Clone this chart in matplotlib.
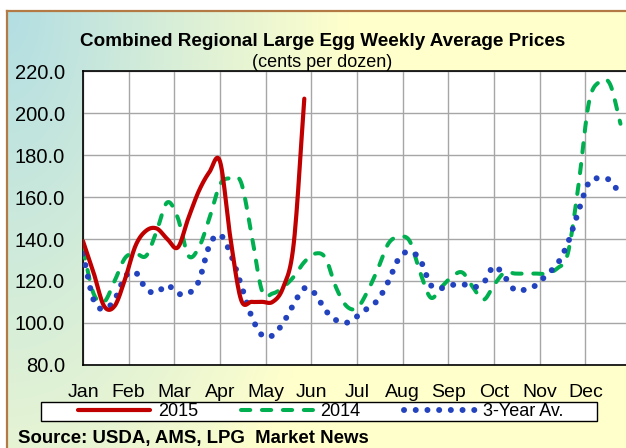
import numpy as np
import matplotlib
matplotlib.use("Agg")
import matplotlib.pyplot as plt
from matplotlib.lines import Line2D
from matplotlib.patches import Rectangle

plt.rcParams['font.family'] = ['Liberation Sans', 'DejaVu Sans']

#meses do eixo x (cada um começa numa linha de grade)
meses = ["Jan", "Feb", "Mar", "Apr", "May", "Jun",
         "Jul", "Aug", "Sep", "Oct", "Nov", "Dec"]
y_ticks = [80, 100, 120, 140, 160, 180, 200, 220]

#valores semanais (centavos por duzia)
preco_2015 = [139, 124, 108, 108, 121, 137, 144, 145, 140, 136, 150,
              163, 172, 177, 140, 111, 110, 110, 110, 117, 138, 207]

preco_2014 = [135, 114, 110, 120, 131, 133, 132, 144, 157.5, 150, 132,
              136, 150, 166, 169, 167, 142, 115, 114, 117, 122, 129,
              133, 131, 117, 108, 107, 115, 126, 138, 141, 139, 124,
              112, 117, 122, 124, 117, 111, 118, 124, 123.5, 123.5, 123.5,
              123.5, 126, 133, 165, 205, 215, 214, 195]

media_3anos = [133, 111, 106.5, 111, 122, 124, 116, 114.5, 118, 114, 114,
               120, 137, 142, 133, 118, 103, 94, 94, 100, 109, 116.5,
               114, 106, 101.3, 100, 103, 107, 111, 120, 131, 134, 130,
               118, 116.5, 118, 118.5, 117, 119, 127, 122, 115.5, 116,
               118, 123, 128, 138, 153, 167, 169, 168, 161]


def suaviza(y, n=12):
    #curva suave tipo excel (catmull-rom) passando pelos pontos
    y = np.asarray(y, float)
    x = np.arange(len(y), dtype=float)
    p = np.concatenate([[2 * y[0] - y[1]], y, [2 * y[-1] - y[-2]]])
    xs, ys = [], []
    t = np.linspace(0, 1, n, endpoint=False)
    for i in range(len(y) - 1):
        p0, p1, p2, p3 = p[i], p[i + 1], p[i + 2], p[i + 3]
        v = 0.5 * (2 * p1 + (-p0 + p2) * t + (2 * p0 - 5 * p1 + 4 * p2 - p3) * t ** 2
                   + (-p0 + 3 * p1 - 3 * p2 + p3) * t ** 3)
        xs.extend(x[i] + t)
        ys.extend(v)
    xs.append(x[-1])
    ys.append(y[-1])
    return np.array(xs), np.array(ys)


W, H = 626, 448
fig = plt.figure(figsize=(W / 100, H / 100), dpi=100)

#fundo com degrade (azul claro no canto para amarelo claro)
fundo = fig.add_axes([0, 0, 1, 1])
fundo.set_xlim(0, W)
fundo.set_ylim(H, 0)
fundo.axis("off")
gx, gy = np.meshgrid(np.linspace(0, 1, 200), np.linspace(0, 1, 150))
d = np.clip(np.sqrt((gx / 0.55) ** 2 + (gy / 1.5) ** 2), 0, 1)
teal = np.array([0.70, 0.87, 0.89])
amarelo = np.array([1.0, 1.0, 0.80])
img = teal * (1 - d[..., None]) + amarelo * d[..., None]
fundo.imshow(img, extent=[7, W, H, 11], aspect="auto", interpolation="bilinear")
fundo.plot([7, 7], [11, H], color="#b47a45", lw=1.6)
fundo.plot([7, W], [11, 11], color="#b47a45", lw=1.6)

#area do grafico (passa da borda direita da figura)
x0, x1, yt, yb = 83, 631, 71.4, 364.7
ax = fig.add_axes([x0 / W, 1 - yb / H, (x1 - x0) / W, (yb - yt) / H])
ax.set_facecolor("white")

estilo_2015 = dict(color="#C00000", lw=3.0, solid_capstyle="round")
estilo_2014 = dict(color="#00B050", lw=2.9, dashes=(2.3, 2.9), dash_capstyle="round")
estilo_media = dict(color="#2342BE", lw=4.3, dashes=(0.01, 1.95), dash_capstyle="round")

xs, ys = suaviza(preco_2014)
ax.plot(xs, ys, zorder=3, **estilo_2014)
xs, ys = suaviza(media_3anos)
ax.plot(xs, ys, zorder=4, **estilo_media)
xs, ys = suaviza(preco_2015)
ax.plot(xs, ys, zorder=5, **estilo_2015)

ax.set_xlim(0, 52)
ax.set_ylim(80, 220)
ax.set_xticks([i * 52 / 12 for i in range(12)])
ax.set_xticklabels(meses, fontsize=14)
ax.set_yticks(y_ticks)
ax.set_yticklabels([f"{v:.1f}" for v in y_ticks], fontsize=14.5)
ax.tick_params(axis="both", length=0)
ax.tick_params(axis="y", pad=13)
ax.tick_params(axis="x", pad=14)
ax.grid(True, color="#a6a6a6", lw=1.0)
ax.set_axisbelow(True)
for s in ax.spines.values():
    s.set_linewidth(1.2)
    s.set_color("black")

fig.text(323 / W, 1 - 41 / H, "Combined Regional Large Egg Weekly Average Prices",
         ha="center", va="center", fontsize=13.6, fontweight="bold")
fig.text(322 / W, 1 - 62 / H, "(cents per dozen)",
         ha="center", va="center", fontsize=13)
fig.text(18 / W, 1 - 438 / H, "Source: USDA, AMS, LPG  Market News",
         ha="left", va="center", fontsize=13.4, fontweight="bold")

#caixa da legenda
fundo.add_patch(Rectangle((41, 402), 556, 19.5, facecolor="white",
                          edgecolor="black", lw=1.0, zorder=5))
h1 = Line2D([], [], **estilo_2015)
h2 = Line2D([], [], **estilo_2014)
h3 = Line2D([], [], **estilo_media)
fig.legend([h1, h2, h3], ["2015", "2014", "3-Year Av."], ncol=3,
           loc="center", bbox_to_anchor=(321 / W, 1 - 411.5 / H),
           frameon=False, fontsize=13, handlelength=4.0,
           handletextpad=0.4, columnspacing=2.4)

plt.savefig("out.png", dpi=100)
